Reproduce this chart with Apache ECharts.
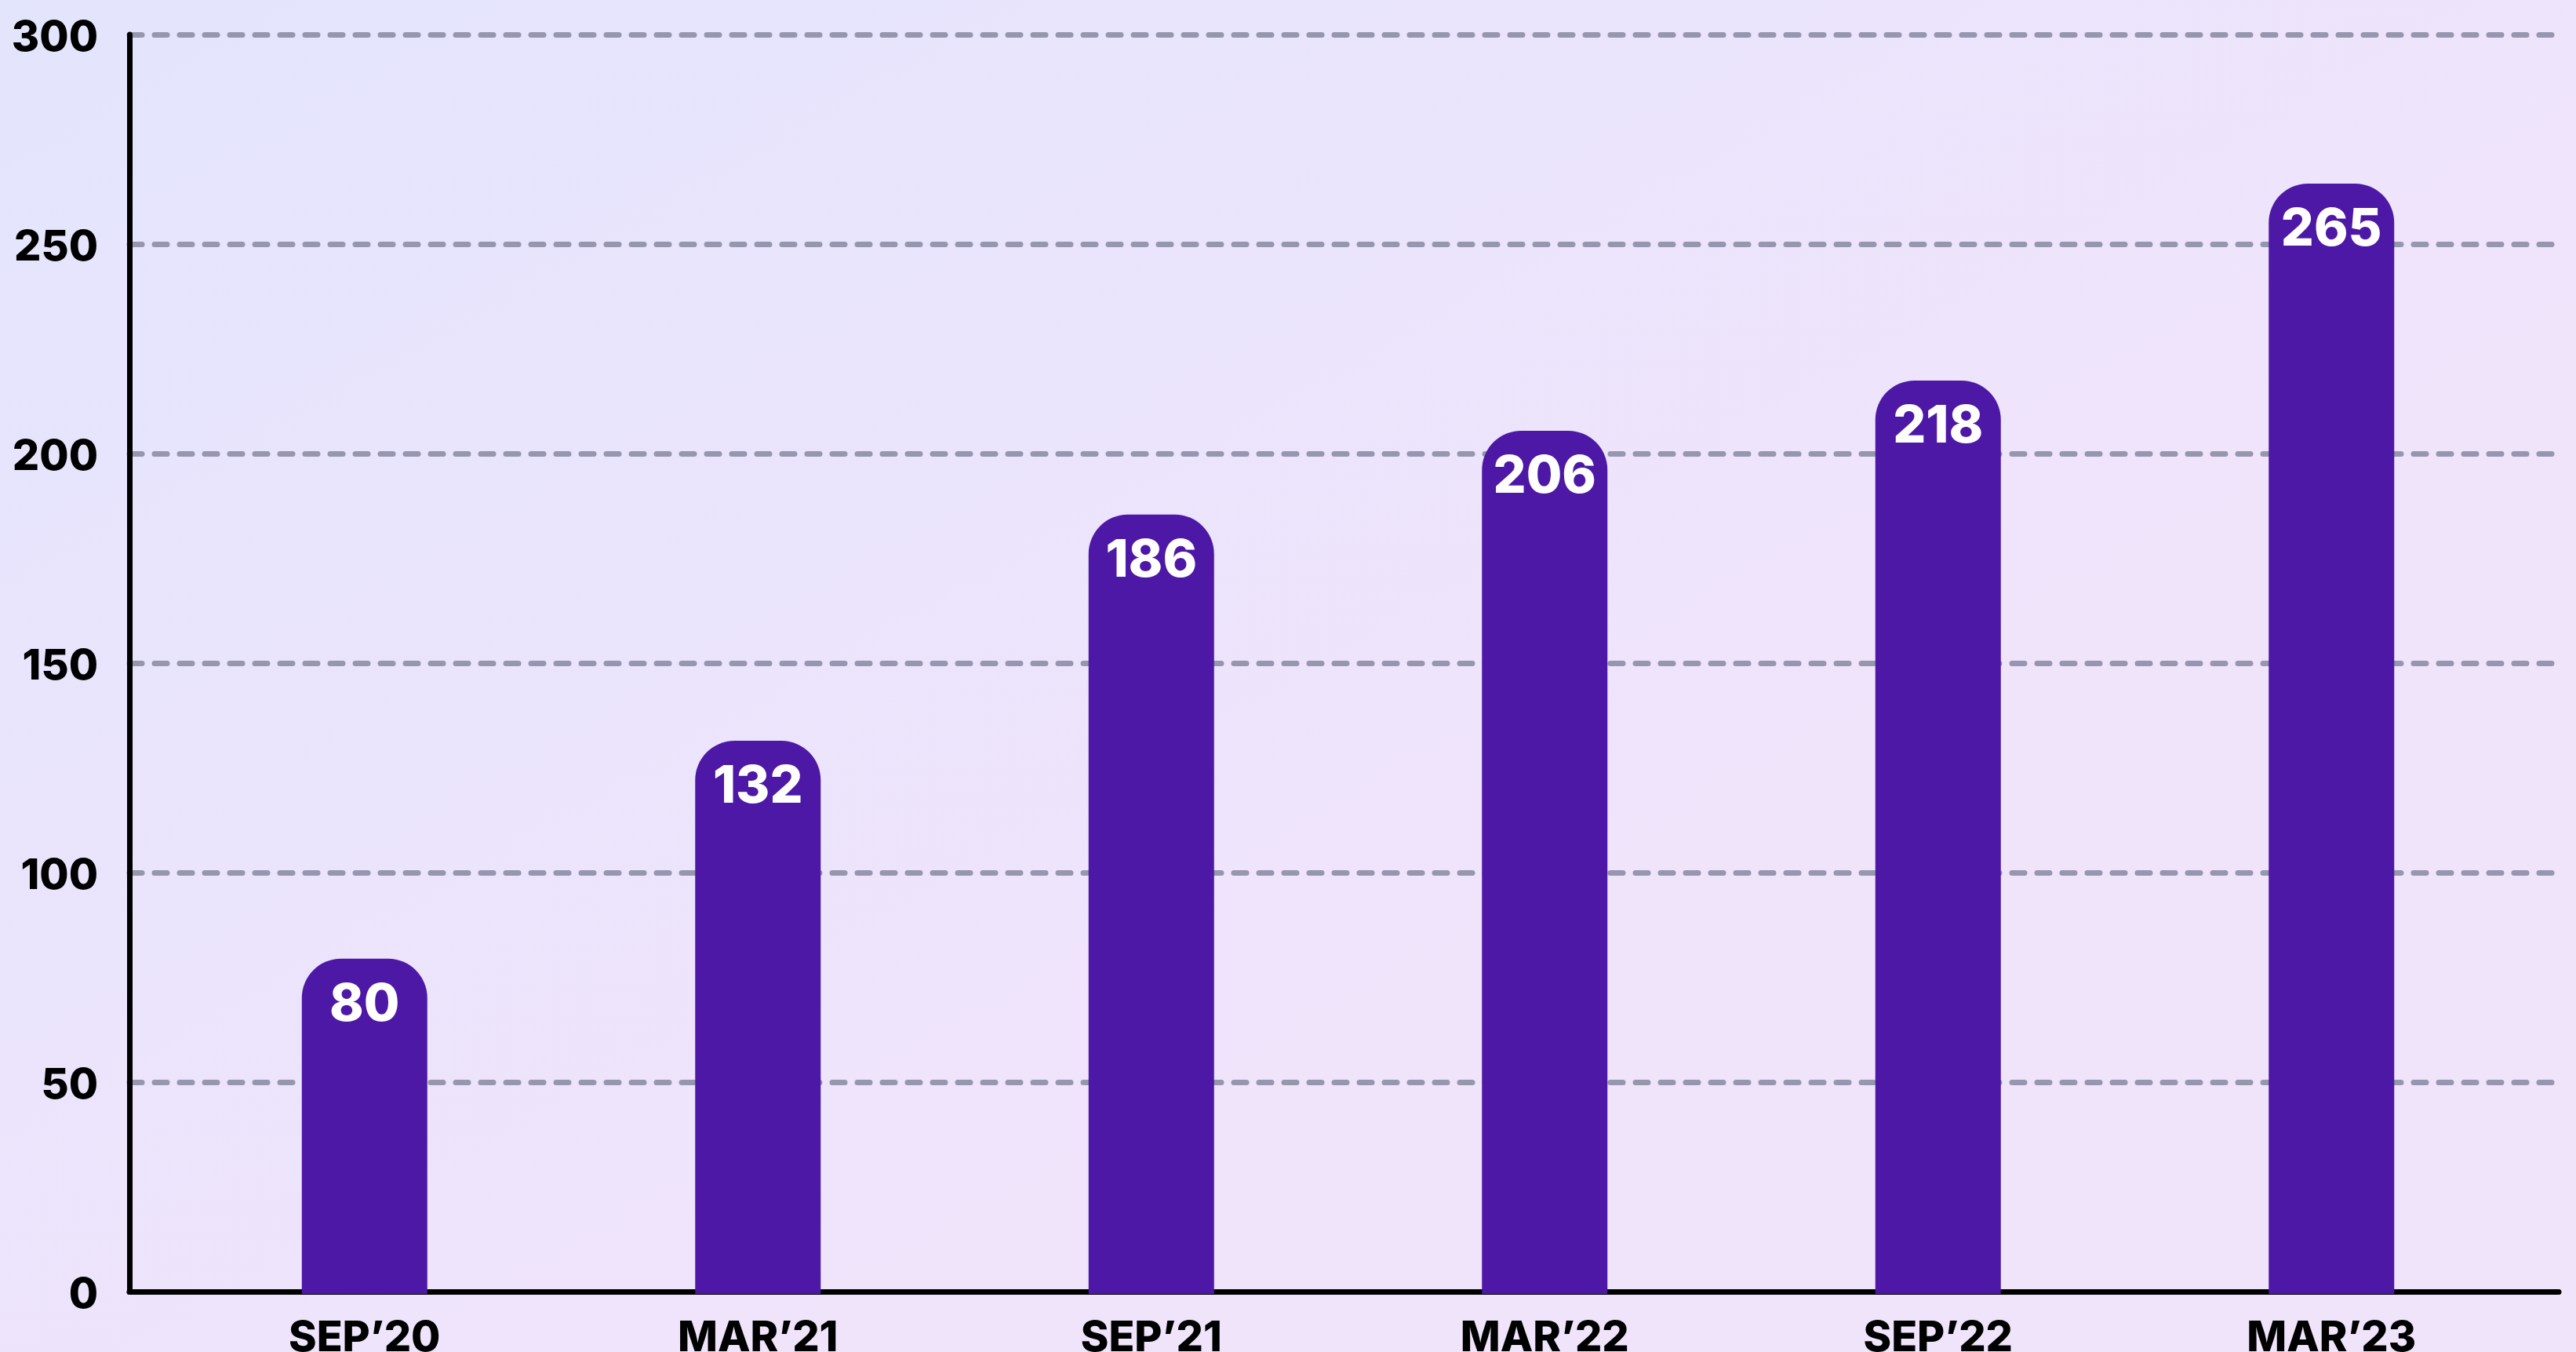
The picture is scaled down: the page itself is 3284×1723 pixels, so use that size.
<!DOCTYPE html>
<html>
<head>
<meta charset="utf-8">
<script src="https://cdn.jsdelivr.net/npm/echarts@6/dist/echarts.min.js"></script>
<style>
  html, body { margin: 0; padding: 0; }
  #chart { width: 3284px; height: 1723px; }
</style>
</head>
<body>
<div id="chart"></div>
<script>
var categories = ["SEP\u201920", "MAR\u201921", "SEP\u201921", "MAR\u201922", "SEP\u201922", "MAR\u201923"];
var values = [80, 132, 186, 206, 218, 265];
var yMin = 0, yMax = 300, yStep = 50;

var FONT = "Inter, Roboto, 'Noto Sans', sans-serif";
var chart = echarts.init(document.getElementById('chart'));

chart.setOption({
  backgroundColor: {
    type: 'linear', x: 0, y: 0, x2: 0.3, y2: 1,
    colorStops: [
      { offset: 0, color: '#e3e5fd' },
      { offset: 1, color: '#f0e4fb' }
    ]
  },
  animation: false,
  grid: [
    // axes frame + gridlines
    { left: 165, right: 22, top: 44, bottom: 77, outerBoundsMode: 'none', containLabel: false },
    // bars (slightly offset band layout)
    { left: 214, right: 61, top: 47, bottom: 74, outerBoundsMode: 'none', containLabel: false }
  ],
  xAxis: [
    {
      gridIndex: 0, type: 'value', min: 0, max: 1,
      axisLine: { show: true, lineStyle: { color: '#000', width: 7, cap: 'round' } },
      axisTick: { show: false }, axisLabel: { show: false }, splitLine: { show: false }
    },
    {
      gridIndex: 1, type: 'category', data: categories,
      axisLine: { show: false }, axisTick: { show: false },
      axisLabel: {
        color: '#000', fontFamily: FONT, fontWeight: 800, fontSize: 54, margin: 30
      }
    }
  ],
  yAxis: [
    {
      gridIndex: 0, type: 'value', min: yMin, max: yMax, interval: yStep,
      axisLine: { show: true, lineStyle: { color: '#000', width: 7, cap: 'round' } },
      axisTick: { show: false },
      axisLabel: {
        margin: 40,
        formatter: '{v|{value}}',
        rich: {
          v: {
            color: '#000', fontFamily: FONT, fontWeight: 800, fontSize: 54,
            padding: [10, 0, 0, 0]
          }
        }
      },
      splitLine: {
        show: true,
        lineStyle: { color: '#9696ae', width: 7, type: [16, 16], cap: 'round' }
      }
    },
    {
      gridIndex: 1, type: 'value', min: yMin, max: yMax, show: false
    }
  ],
  series: [{
    type: 'bar',
    xAxisIndex: 1, yAxisIndex: 1,
    data: values,
    barWidth: 160,
    itemStyle: { color: '#4d18a6', borderRadius: [50, 50, 0, 0] },
    label: {
      show: true, position: 'insideTop', distance: 26,
      color: '#fff', fontFamily: FONT, fontWeight: 800, fontSize: 66, lineHeight: 66
    },
    z: 3
  }]
});
</script>
</body>
</html>
